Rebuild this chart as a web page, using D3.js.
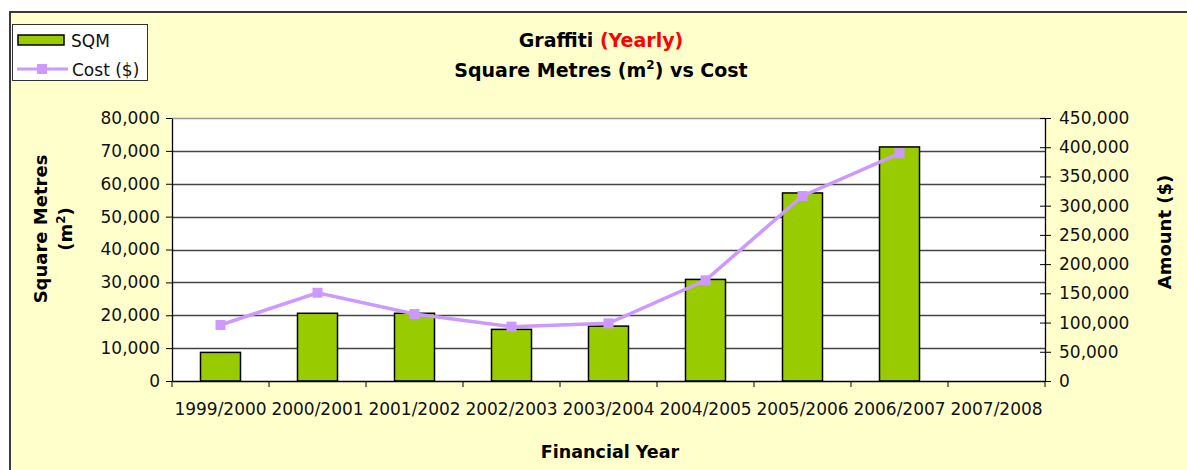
<!DOCTYPE html>
<html>
<head>
<meta charset="utf-8">
<script src="https://cdn.jsdelivr.net/npm/d3@7"></script>
<style>
  body { margin: 0; background: #fff; }
  svg { display: block; font-family: 'DejaVu Sans', Verdana, sans-serif; }
</style>
</head>
<body>
<div id="chart"></div>
<script>
// DATA
var years = ['1999/2000', '2000/2001', '2001/2002', '2002/2003', '2003/2004',
  '2004/2005', '2005/2006', '2006/2007', '2007/2008']
var sqm = [8700, 20600, 20600, 15700, 16700, 30900, 57200, 71200, null]
var cost = [95800, 151000, 114600, 93000, 98700, 172300, 316600, 389600, null]
var sqmTicks = [0, 10000, 20000, 30000, 40000, 50000, 60000, 70000, 80000]
var costTicks = [0, 50000, 100000, 150000, 200000, 250000, 300000, 350000, 400000, 450000]

// GLOBAL
var width = 1187
var height = 470
var margin = {top: 118, left: 172, bottom: 89, right: 142}
var green = '#99cc00'
var lilac = '#cc99ff'
var fontSize = 17

var svg = d3.select('#chart').append('svg')
  .attr('width', width)
  .attr('height', height)

// frame
svg.append('rect')
  .attr('x', 10).attr('y', 12)
  .attr('width', width + 20).attr('height', height + 20)
  .style('fill', '#ffffcc')
  .style('stroke', '#3a3a3a')
  .style('stroke-width', 2)

var x = d3.scaleBand()
  .domain(years)
  .range([margin.left, width - margin.right])

var yL = d3.scaleLinear()
  .domain([0, 80000])
  .range([height - margin.bottom, margin.top])

var yR = d3.scaleLinear()
  .domain([0, 450000])
  .range([height - margin.bottom, margin.top])

var fmt = d3.format(',')

// plot area
svg.append('rect')
  .attr('x', margin.left)
  .attr('y', margin.top)
  .attr('width', width - margin.left - margin.right)
  .attr('height', height - margin.top - margin.bottom)
  .style('fill', '#fff')

// gridlines
svg.append('g').selectAll('line')
  .data(sqmTicks.filter(d => d > 0))
  .enter().append('line')
  .attr('x1', margin.left)
  .attr('x2', width - margin.right)
  .attr('y1', d => Math.round(yL(d)) + 0.5)
  .attr('y2', d => Math.round(yL(d)) + 0.5)
  .style('stroke', d => d == 80000 ? '#999' : '#444')
  .style('stroke-width', 1.3)

// bars
var barW = 40
svg.append('g').selectAll('rect')
  .data(years.map((y, i) => ({year: y, v: sqm[i]})).filter(d => d.v != null))
  .enter().append('rect')
  .attr('x', d => x(d.year) + x.bandwidth() / 2 - barW / 2)
  .attr('y', d => yL(d.v))
  .attr('width', barW)
  .attr('height', d => yL(0) - yL(d.v))
  .style('fill', green)
  .style('stroke', '#000')
  .style('stroke-width', 1.5)

// line
var costData = years.map((y, i) => ({year: y, v: cost[i]})).filter(d => d.v != null)
var line = d3.line()
  .x(d => x(d.year) + x.bandwidth() / 2)
  .y(d => yR(d.v))

svg.append('path')
  .datum(costData)
  .attr('d', line)
  .style('fill', 'none')
  .style('stroke', lilac)
  .style('stroke-width', 3.5)

svg.append('g').selectAll('rect')
  .data(costData)
  .enter().append('rect')
  .attr('x', d => x(d.year) + x.bandwidth() / 2 - 5)
  .attr('y', d => yR(d.v) - 5)
  .attr('width', 10)
  .attr('height', 10)
  .style('fill', lilac)

// axes
var gL = svg.append('g')
  .attr('transform', 'translate(' + [margin.left, 0] + ')')
  .call(d3.axisLeft(yL).tickValues(sqmTicks).tickFormat(fmt).tickSize(6).tickSizeOuter(0).tickPadding(6))

var gR = svg.append('g')
  .attr('transform', 'translate(' + [width - margin.right, 0] + ')')
  .call(d3.axisRight(yR).tickValues(costTicks).tickFormat(fmt).tickSize(6).tickSizeOuter(0).tickPadding(8))
gR.selectAll('.tick line').attr('x1', -5)

var gX = svg.append('g')
  .attr('transform', 'translate(' + [0, height - margin.bottom] + ')')
  .call(d3.axisBottom(x).tickSize(0).tickPadding(22))

// boundary ticks on x axis
var bounds = years.map(y => x(y)).concat([x.range()[1]])
gX.selectAll('.bound')
  .data(bounds)
  .enter().append('line')
  .attr('x1', d => d).attr('x2', d => d)
  .attr('y1', 0).attr('y2', 6)
  .style('stroke', '#000')

svg.selectAll('.domain').style('stroke', '#000').style('stroke-width', 1.3)
svg.selectAll('.tick line').style('stroke', '#000')
svg.selectAll('.tick text')
  .style('font-size', fontSize + 'px')
  .style('font-family', "'DejaVu Sans', Verdana, sans-serif")
  .style('fill', '#111')

// titles
var t1 = svg.append('text')
  .attr('x', 601).attr('y', 47)
  .style('text-anchor', 'middle')
  .style('font-size', '19px')
  .style('font-weight', 'bold')
t1.append('tspan').text('Graffiti ')
t1.append('tspan').text('(Yearly)').style('fill', '#ff0000')

var t2 = svg.append('text')
  .attr('x', 601).attr('y', 77)
  .style('text-anchor', 'middle')
  .style('font-size', '19px')
  .style('font-weight', 'bold')
t2.append('tspan').text('Square Metres (m')
t2.append('tspan').text('2').attr('dy', -8).style('font-size', '12px')
t2.append('tspan').text(') vs Cost').attr('dy', 8)

var yTitle = svg.append('text')
  .attr('transform', 'translate(47,229) rotate(-90)')
  .style('text-anchor', 'middle')
  .style('font-size', '18px')
  .style('font-weight', 'bold')
yTitle.append('tspan').attr('x', 0).attr('y', 0).text('Square Metres')
var yt2 = yTitle.append('tspan').attr('x', 0).attr('y', 25)
yt2.append('tspan').text('(m')
yt2.append('tspan').text('2').attr('dy', -7).style('font-size', '12px')
yt2.append('tspan').text(')').attr('dy', 7)

svg.append('text')
  .attr('transform', 'translate(1171,232) rotate(-90)')
  .style('text-anchor', 'middle')
  .style('font-size', '18px')
  .style('font-weight', 'bold')
  .text('Amount ($)')

svg.append('text')
  .attr('x', 610).attr('y', 458)
  .style('text-anchor', 'middle')
  .style('font-size', '17.5px')
  .style('font-weight', 'bold')
  .text('Financial Year')

// legend
var gLeg = svg.append('g')
gLeg.append('rect')
  .attr('x', 12.5).attr('y', 24.5).attr('width', 135).attr('height', 56)
  .style('fill', '#fff').style('stroke', '#333')
gLeg.append('rect')
  .attr('x', 18).attr('y', 35).attr('width', 46).attr('height', 10)
  .style('fill', green).style('stroke', '#000').style('stroke-width', 1.5)
gLeg.append('text').attr('x', 71).attr('y', 47).text('SQM')
gLeg.append('line')
  .attr('x1', 17).attr('x2', 68).attr('y1', 69).attr('y2', 69)
  .style('stroke', lilac).style('stroke-width', 3)
gLeg.append('rect')
  .attr('x', 37).attr('y', 64).attr('width', 10).attr('height', 10)
  .style('fill', lilac)
gLeg.append('text').attr('x', 72).attr('y', 76).text('Cost ($)')
gLeg.selectAll('text').style('font-size', '17px').style('fill', '#111')
</script>
</body>
</html>
